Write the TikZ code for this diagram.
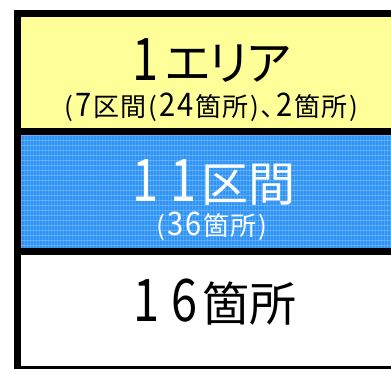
\documentclass[tikz,border=0pt]{standalone}
\usepackage{fontspec}
\setmainfont{Noto Sans CJK JP}
\usepackage{graphicx}
\definecolor{boxyellow}{HTML}{FFFF99}
\definecolor{boxblue}{HTML}{2E93F5}
\definecolor{gridblue}{HTML}{8CC8FF}
% tall digits, title size
\newcommand{\bd}[1]{\kern5.5pt\scalebox{1}[1.25]{#1}\kern5.5pt}
% tall digits, subtitle size
\newcommand{\sd}[1]{\kern0.9pt\scalebox{1.12}[1.25]{#1}\kern0.9pt}
% spaced character, subtitle size
\newcommand{\spc}[1]{\kern0.9pt#1\kern0.9pt}
\tikzset{
  frame/.style={draw=black, line width=7pt},
  bigtext/.style={font=\fontsize{47}{47}\selectfont, inner sep=0pt, anchor=base},
  smalltext/.style={font=\fontsize{26}{26}\selectfont, inner sep=0pt, anchor=base},
}
\begin{document}
\begin{tikzpicture}[x=1pt,y=-1pt]
\useasboundingbox (0,0) rectangle (391,369);
\clip (0,0) rectangle (391,369);
% boxes
\fill[boxyellow] (17.5,13.5) rectangle (420,131.5);
\fill[boxblue] (17.5,131.5) rectangle (420,251.5);
\begin{scope}
\clip (21,135) rectangle (391,248);
\foreach \i in {0,3,...,372} \draw[gridblue, opacity=0.35, line width=0.6pt] (21+\i,135) -- (21+\i,248);
\foreach \j in {0,5,...,113} \draw[gridblue, opacity=0.5, line width=0.8pt] (21,135+\j) -- (391,135+\j);
\end{scope}
\fill[white] (17.5,251.5) rectangle (420,369.5);
\draw[frame] (420,13.5) -- (17.5,13.5) -- (17.5,131.5) -- (420,131.5);
\draw[frame] (17.5,131.5) -- (17.5,251.5) -- (420,251.5);
\draw[frame] (17.5,251.5) -- (17.5,369.5) -- (420,369.5);
% texts
\node[bigtext] (t1) at (212.5,80.5) {\scalebox{1}[1.25]{1}\kern5ptエ\kern-6ptリ\kern-7ptア};
\node[smalltext] (s1) at (211.5,116.5) {\spc{(}\sd{7}\spc{区}\spc{間}\spc{(}\sd{2}\sd{4}\spc{箇}\spc{所}\spc{)}\spc{､}\sd{2}\spc{箇}\spc{所}\spc{)}};
\node[bigtext, text=white] (t2) at (211.5,201.5) {\bd{1}\bd{1}区間};
\node[smalltext, text=white] (s2) at (212,235.5) {\spc{(}\sd{3}\sd{6}\spc{箇}\spc{所}\spc{)}};
\node[bigtext] (t3) at (212.5,321.5) {\bd{1}\bd{6}箇所};
\end{tikzpicture}
\end{document}
